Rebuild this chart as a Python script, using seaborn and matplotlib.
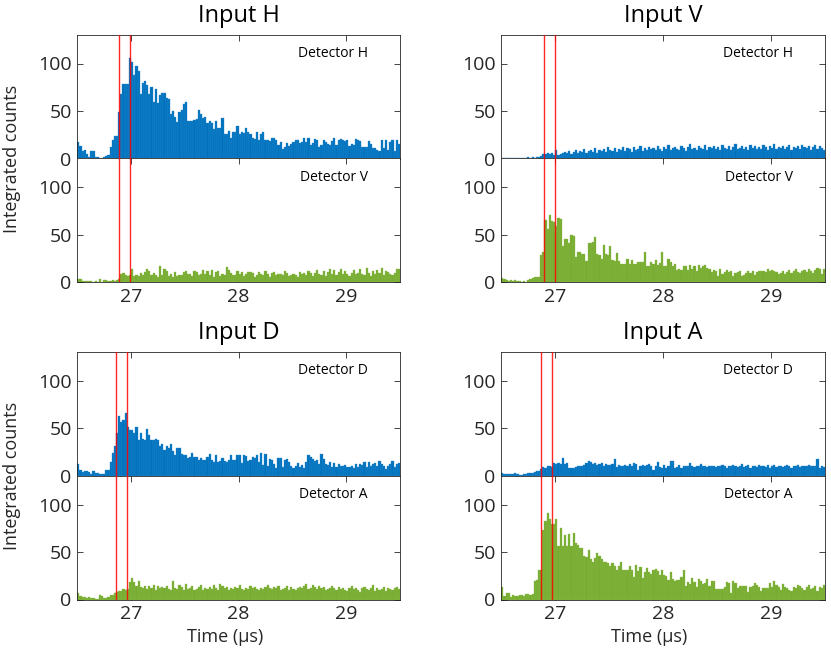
import numpy as np
import pandas as pd
import matplotlib
matplotlib.use("Agg")
import matplotlib.pyplot as plt
import seaborn as sns

sns.set_style("ticks")
plt.rcParams["font.family"] = ["Open Sans", "DejaVu Sans"]

# ---------------- data ----------------
time_start = 26.5
time_stop = 29.5
n_bins = 150
x_ticks = [27, 28, 29]
y_ticks = [0, 50, 100]

titles = ["Input H", "Input V", "Input D", "Input A"]
top_labels = ["Detector H", "Detector H", "Detector D", "Detector D"]
bottom_labels = ["Detector V", "Detector V", "Detector A", "Detector A"]

# gate markers (µs) for each input
gate_h = [26.89, 26.99]
gate_v = [26.90, 27.00]
gate_d = [26.862, 26.965]
gate_a = [26.866, 26.968]

# Input H
h_det_h = [
    17, 13, 8, 9, 5, 2, 8, 8, 2, 2,
    1, 0, 2, 3, 4, 12, 19, 24, 24, 49,
    68, 78, 78, 78, 106, 102, 88, 97, 92, 68,
    80, 82, 77, 68, 75, 59, 73, 58, 67, 69,
    69, 64, 63, 47, 50, 44, 38, 49, 51, 57,
    59, 39, 40, 40, 41, 42, 51, 47, 43, 44,
    37, 39, 37, 31, 40, 32, 32, 43, 26, 26,
    29, 22, 28, 28, 34, 26, 28, 27, 32, 28,
    26, 22, 21, 28, 19, 26, 28, 19, 20, 18,
    22, 22, 20, 14, 17, 10, 12, 16, 13, 15,
    17, 20, 19, 16, 17, 22, 17, 22, 14, 16,
    21, 19, 12, 14, 20, 17, 15, 14, 18, 22,
    14, 19, 21, 19, 18, 19, 13, 15, 14, 21,
    19, 18, 12, 12, 12, 18, 15, 11, 11, 9,
    8, 19, 11, 20, 9, 17, 20, 8, 19, 15,
]
h_det_v = [
    4, 4, 2, 2, 2, 2, 2, 1, 2, 1,
    4, 1, 3, 3, 2, 2, 3, 2, 3, 4,
    9, 10, 8, 7, 8, 14, 7, 8, 7, 10,
    8, 11, 14, 12, 8, 10, 8, 6, 17, 8,
    14, 12, 7, 9, 6, 11, 7, 8, 8, 11,
    12, 9, 9, 7, 12, 11, 8, 9, 13, 9,
    12, 8, 13, 6, 11, 12, 7, 9, 8, 16,
    13, 10, 8, 8, 12, 9, 11, 7, 9, 11,
    11, 10, 6, 8, 11, 9, 8, 12, 9, 6,
    10, 11, 8, 9, 9, 8, 12, 10, 7, 8,
    9, 8, 6, 11, 9, 10, 8, 12, 10, 7,
    10, 13, 9, 8, 12, 7, 11, 14, 9, 13,
    8, 11, 14, 9, 12, 9, 7, 10, 13, 9,
    10, 14, 9, 8, 15, 10, 7, 12, 9, 13,
    10, 15, 8, 12, 11, 9, 8, 10, 14, 14,
]
# Input V
v_det_h = [
    1, 1, 1, 1, 1, 1, 1, 1, 1, 1,
    1, 1, 2, 1, 2, 1, 2, 2, 3, 5,
    5, 6, 5, 6, 4, 9, 4, 5, 6, 7,
    6, 8, 5, 7, 9, 6, 8, 7, 10, 6,
    8, 9, 7, 11, 6, 9, 8, 10, 7, 12,
    9, 8, 11, 7, 10, 9, 12, 8, 11, 10,
    7, 12, 9, 10, 13, 8, 11, 9, 12, 10,
    11, 9, 13, 10, 8, 12, 10, 14, 9, 11,
    12, 10, 9, 13, 11, 8, 12, 15, 10, 11,
    9, 13, 11, 10, 14, 9, 12, 11, 13, 10,
    12, 9, 14, 11, 10, 13, 9, 12, 15, 10,
    11, 13, 10, 12, 9, 14, 11, 13, 10, 12,
    10, 14, 12, 9, 13, 11, 15, 10, 12, 11,
    13, 10, 12, 14, 9, 12, 11, 13, 10, 14,
    12, 11, 13, 9, 12, 14, 10, 13, 11, 9,
]
v_det_v = [
    5, 4, 3, 2, 3, 2, 3, 2, 2, 1,
    2, 1, 3, 4, 5, 6, 6, 6, 29, 32,
    65, 56, 71, 64, 63, 59, 68, 67, 38, 46,
    46, 41, 50, 49, 27, 32, 32, 30, 30, 23,
    41, 41, 42, 48, 30, 29, 25, 39, 30, 29,
    38, 24, 23, 31, 23, 19, 19, 19, 25, 19,
    24, 19, 19, 21, 21, 21, 32, 17, 17, 22,
    19, 24, 18, 20, 32, 17, 17, 25, 21, 17,
    19, 13, 14, 13, 17, 17, 13, 18, 14, 17,
    12, 18, 15, 17, 18, 15, 14, 11, 13, 12,
    7, 14, 9, 11, 13, 11, 12, 7, 10, 11,
    12, 7, 8, 10, 12, 10, 12, 8, 11, 12,
    12, 12, 11, 14, 12, 13, 12, 11, 9, 10,
    12, 9, 11, 13, 10, 12, 14, 11, 10, 12,
    13, 11, 14, 12, 10, 13, 15, 14, 9, 14,
]
# Input D
d_det_d = [
    13, 6, 4, 5, 5, 4, 2, 5, 3, 3,
    2, 2, 2, 6, 6, 15, 24, 31, 45, 63,
    57, 59, 66, 51, 48, 48, 45, 51, 38, 45,
    39, 38, 49, 43, 38, 38, 39, 38, 31, 34,
    27, 31, 29, 34, 26, 22, 29, 29, 23, 22,
    22, 19, 20, 24, 20, 20, 17, 19, 17, 17,
    20, 23, 17, 15, 22, 15, 16, 19, 16, 15,
    17, 22, 17, 17, 22, 22, 14, 22, 21, 16,
    17, 20, 19, 22, 15, 24, 12, 23, 10, 18,
    17, 13, 8, 19, 19, 9, 17, 18, 15, 11,
    8, 10, 14, 9, 12, 8, 15, 22, 20, 18,
    16, 17, 13, 23, 18, 13, 12, 15, 9, 14,
    9, 13, 10, 11, 12, 9, 9, 11, 8, 13,
    9, 13, 12, 15, 9, 15, 10, 13, 14, 10,
    16, 13, 10, 7, 10, 13, 16, 9, 13, 14,
]
d_det_a = [
    7, 4, 3, 3, 2, 3, 2, 2, 1, 1,
    5, 4, 2, 2, 3, 5, 5, 7, 8, 9,
    9, 11, 10, 11, 18, 23, 18, 14, 19, 13,
    12, 14, 11, 14, 12, 15, 10, 14, 12, 13,
    12, 14, 11, 10, 19, 12, 11, 15, 13, 10,
    16, 11, 12, 14, 10, 11, 13, 15, 10, 12,
    11, 13, 11, 15, 12, 10, 16, 14, 12, 13,
    10, 12, 11, 13, 12, 15, 11, 10, 12, 11,
    14, 12, 13, 11, 10, 12, 11, 13, 15, 12,
    11, 13, 12, 14, 10, 11, 12, 14, 10, 13,
    11, 10, 12, 13, 12, 14, 16, 11, 12, 15,
    13, 11, 14, 12, 13, 10, 11, 12, 14, 12,
    10, 13, 11, 12, 10, 9, 12, 14, 11, 12,
    10, 8, 12, 13, 11, 10, 12, 15, 9, 12,
    10, 11, 13, 9, 12, 11, 10, 12, 13, 11,
]
# Input A
a_det_d = [
    3, 2, 2, 2, 2, 2, 3, 2, 1, 1,
    2, 2, 3, 3, 3, 4, 5, 5, 7, 9,
    8, 11, 10, 9, 14, 13, 14, 13, 19, 13,
    14, 8, 8, 8, 9, 10, 11, 11, 12, 14,
    16, 15, 13, 14, 12, 13, 14, 10, 13, 12,
    12, 13, 18, 9, 12, 11, 10, 12, 11, 13,
    10, 14, 13, 6, 11, 12, 11, 12, 13, 10,
    6, 11, 15, 9, 8, 12, 8, 10, 16, 16,
    8, 9, 12, 8, 11, 10, 10, 14, 10, 9,
    11, 10, 13, 10, 11, 9, 10, 11, 10, 9,
    10, 11, 12, 10, 8, 10, 11, 12, 10, 9,
    11, 13, 9, 10, 12, 8, 11, 10, 9, 12,
    10, 11, 9, 12, 8, 10, 12, 9, 11, 10,
    9, 10, 12, 11, 8, 10, 11, 12, 9, 10,
    11, 10, 12, 10, 11, 10, 18, 8, 10, 9,
]
a_det_a = [
    13, 4, 7, 7, 3, 5, 4, 4, 5, 5,
    4, 6, 6, 5, 6, 20, 21, 31, 31, 73,
    83, 91, 85, 80, 80, 85, 56, 75, 56, 68,
    56, 69, 56, 70, 60, 57, 54, 54, 46, 45,
    52, 43, 40, 44, 49, 46, 43, 40, 40, 38,
    35, 38, 35, 31, 35, 39, 31, 31, 31, 35,
    31, 24, 36, 30, 34, 23, 29, 33, 29, 27,
    31, 32, 30, 26, 31, 26, 25, 21, 29, 22,
    20, 21, 21, 24, 31, 14, 18, 16, 23, 18,
    13, 22, 20, 16, 17, 22, 14, 19, 19, 11,
    11, 11, 11, 13, 18, 17, 7, 20, 17, 12,
    14, 14, 14, 14, 8, 13, 14, 17, 15, 13,
    9, 12, 12, 12, 17, 13, 20, 15, 13, 10,
    16, 13, 12, 10, 9, 13, 12, 15, 14, 12,
    10, 13, 15, 11, 12, 14, 9, 13, 12, 15,
]

top_series = [h_det_h, v_det_h, d_det_d, a_det_d]
bottom_series = [h_det_v, v_det_v, d_det_a, a_det_a]
gates = [gate_h, gate_v, gate_d, gate_a]

for s in top_series + bottom_series:
    if len(s) != n_bins:
        raise ValueError("bad length %d" % len(s))

# ---------------- style ----------------
BLUE = "#0072BD"
BLUE_EDGE = "#2e8ad0"
GREEN = "#77AC30"
GREEN_EDGE = "#8cbc4c"
AXC = "#262626"
W, H = 831, 661

edges = np.linspace(time_start, time_stop, n_bins + 1)
centers = (edges[:-1] + edges[1:]) / 2

fig = plt.figure(figsize=(W / 100, H / 100), dpi=100)

col_x = [(77.3, 400.0), (501.3, 825.0)]
row_y = [(35.0, 158.5, 282.5), (352.0, 476.0, 599.5)]
title_y = [16, 333]


def make_ax(x0, x1, ytop, ybot):
    return fig.add_axes([x0 / W, 1 - ybot / H, (x1 - x0) / W, (ybot - ytop) / H])


def style_ax(ax, show_xlabels):
    ax.set_xlim(time_start, time_stop)
    ax.set_ylim(0, 130)
    ax.set_xticks(x_ticks)
    ax.set_yticks(y_ticks)
    ax.tick_params(direction="in", length=4, width=0.6, top=True, right=True,
                   colors=AXC, labelsize=14, pad=4)
    if not show_xlabels:
        ax.tick_params(labelbottom=False)
    for sp in ax.spines.values():
        sp.set_visible(True)
        sp.set_color(AXC)
        sp.set_linewidth(0.6)
    ax.set_xlabel("")
    ax.set_ylabel("")


for i in range(4):
    r, c = divmod(i, 2)
    x0, x1 = col_x[c]
    yt, ym, yb = row_y[r]
    ax_top = make_ax(x0, x1, yt, ym)
    ax_bot = make_ax(x0, x1, ym, yb)

    for ax, vals, col, ec, lab in [
        (ax_top, top_series[i], BLUE, BLUE_EDGE, top_labels[i]),
        (ax_bot, bottom_series[i], GREEN, GREEN_EDGE, bottom_labels[i]),
    ]:
        df = pd.DataFrame({"time": centers, "counts": np.asarray(vals, dtype=float)})
        sns.histplot(data=df, x="time", weights="counts", bins=n_bins,
                     binrange=(time_start, time_stop), ax=ax,
                     color=col, alpha=1.0, edgecolor=ec, linewidth=0.25)
        for g in gates[i]:
            ax.axvline(g, color="#ff0000", lw=1.0, alpha=0.85, zorder=5)
        style_ax(ax, ax is ax_bot)
        ax.text(0.90, 0.85, lab, transform=ax.transAxes, ha="right", va="center",
                fontsize=10, color="black")

    cx = (x0 + x1) / 2
    fig.text(cx / W, 1 - title_y[r] / H, titles[i], ha="center", va="center",
             fontsize=17, color="black")
    if c == 0:
        fig.text(12 / W, 1 - ym / H, "Integrated counts", rotation=90,
                 ha="center", va="center", fontsize=13, color=AXC)
    if r == 1:
        fig.text((cx - 14) / W, 1 - 637 / H, "Time (μs)", ha="center",
                 va="center", fontsize=13, color=AXC)

fig.savefig("out.png", dpi=100)
